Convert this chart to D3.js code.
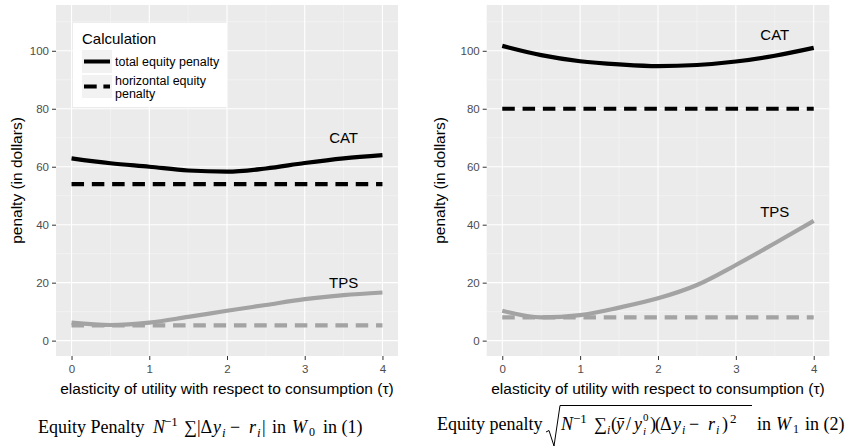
<!DOCTYPE html>
<html>
<head>
<meta charset="utf-8">
<script src="https://cdnjs.cloudflare.com/ajax/libs/d3/7.8.5/d3.min.js"></script>
<style>
  body { margin: 0; background: #fff; }
  svg { display: block; }
  .tick text { font-family: 'Liberation Sans', Arial, sans-serif; font-size: 11.5px; fill: #4d4d4d; }
  .axis-title { font-family: 'Liberation Sans', Arial, sans-serif; font-size: 15.5px; fill: #000; }
  .caption { font-family: 'Liberation Serif', 'Times New Roman', serif; font-size: 18px; fill: #000; }
</style>
</head>
<body>
<div id="chart"></div>
<script>
// values
const tau = [0, 0.5, 1, 1.5, 2, 2.5, 3, 3.5, 4];
const catTotalW0 = [62.9, 61.2, 60.0, 58.7, 58.3, 59.4, 61.3, 62.9, 64.0];
const tpsTotalW0 = [6.2, 5.4, 6.2, 8.2, 10.3, 12.3, 14.3, 15.7, 16.6];
const catHorizW0 = 54;
const tpsHorizW0 = 5.3;
const catTotalW1 = [101.7, 98.5, 96.4, 95.3, 94.7, 95.1, 96.3, 98.3, 101.0];
const tpsTotalW1 = [10.3, 8.0, 8.8, 11.4, 14.6, 19.2, 26.1, 33.6, 41.3];
const catHorizW1 = 80;
const tpsHorizW1 = 8;
const groups = ['CAT', 'TPS'];
const legendLabels = ['total equity penalty', 'horizontal equity penalty'];
const yTicks = [0, 20, 40, 60, 80, 100];
const xTicks = [0, 1, 2, 3, 4];

const width = 847;
const height = 448;
const colors = { CAT: '#000000', TPS: '#a3a3a3' };

const svg = d3.select('#chart').append('svg')
  .attr('width', width)
  .attr('height', height);

const y = d3.scaleLinear().domain([-5.3, 115.8]).range([356, 5]);

function drawPanel(left, right, series, labelY, titleX) {
  const x = d3.scaleLinear().domain([-0.2, 4.2]).range([left, right]);
  const g = svg.append('g');

  // panel background
  g.append('rect')
    .attr('x', left)
    .attr('y', y.range()[1])
    .attr('width', right - left)
    .attr('height', y.range()[0] - y.range()[1])
    .attr('fill', '#ebebeb');

  // minor grid
  g.selectAll('.minor-y')
    .data([10, 30, 50, 70, 90, 110])
    .enter().append('line')
    .attr('x1', left).attr('x2', right)
    .attr('y1', d => y(d)).attr('y2', d => y(d))
    .attr('stroke', '#f7f7f7').attr('stroke-width', 0.6);
  g.selectAll('.minor-x')
    .data([0.5, 1.5, 2.5, 3.5])
    .enter().append('line')
    .attr('y1', y.range()[0]).attr('y2', y.range()[1])
    .attr('x1', d => x(d)).attr('x2', d => x(d))
    .attr('stroke', '#f7f7f7').attr('stroke-width', 0.6);

  // major grid
  g.selectAll('.major-y')
    .data(yTicks)
    .enter().append('line')
    .attr('x1', left).attr('x2', right)
    .attr('y1', d => y(d)).attr('y2', d => y(d))
    .attr('stroke', '#fff').attr('stroke-width', 1.1);
  g.selectAll('.major-x')
    .data(xTicks)
    .enter().append('line')
    .attr('y1', y.range()[0]).attr('y2', y.range()[1])
    .attr('x1', d => x(d)).attr('x2', d => x(d))
    .attr('stroke', '#fff').attr('stroke-width', 1.1);

  // axes
  const yAxis = g.append('g')
    .attr('transform', `translate(${left},0)`)
    .call(d3.axisLeft(y).tickValues(yTicks).tickSize(4).tickPadding(3));
  const xAxis = g.append('g')
    .attr('transform', `translate(0,${y.range()[0]})`)
    .call(d3.axisBottom(x).tickValues(xTicks).tickFormat(d3.format('d')).tickSize(4).tickPadding(5));
  [yAxis, xAxis].forEach((a) => {
    a.select('.domain').remove();
    a.selectAll('.tick line').attr('stroke', '#333').attr('stroke-width', 1);
  });

  // lines
  const line = d3.line()
    .x(d => x(d[0]))
    .y(d => y(d[1]))
    .curve(d3.curveMonotoneX);

  series.forEach((s) => {
    g.append('path')
      .datum(tau.map((t, i) => [t, s.total[i]]))
      .attr('d', line)
      .attr('fill', 'none')
      .attr('stroke', colors[s.name])
      .attr('stroke-width', 4.2);
    g.append('path')
      .datum(tau.map(t => [t, s.horiz]))
      .attr('d', line)
      .attr('fill', 'none')
      .attr('stroke', colors[s.name])
      .attr('stroke-width', 4.2)
      .attr('stroke-dasharray', '12.5 7.8');
  });

  // group labels
  g.selectAll('.grp')
    .data(groups)
    .enter().append('text')
    .attr('x', x(3.5))
    .attr('y', d => y(labelY[d]))
    .attr('dy', '0.36em')
    .attr('text-anchor', 'middle')
    .style('font-family', "'Liberation Sans', Arial, sans-serif")
    .style('font-size', '15px')
    .text(d => d);

  // axis titles
  g.append('text')
    .attr('class', 'axis-title')
    .attr('x', (left + right) / 2)
    .attr('y', 394)
    .attr('text-anchor', 'middle')
    .text('elasticity of utility with respect to consumption (τ)');
  g.append('text')
    .attr('class', 'axis-title')
    .attr('transform', `translate(${titleX},${(y.range()[0] + y.range()[1]) / 2}) rotate(-90)`)
    .attr('text-anchor', 'middle')
    .text('penalty (in dollars)');

  return x;
}

drawPanel(56, 398, [
  { name: 'CAT', total: catTotalW0, horiz: catHorizW0 },
  { name: 'TPS', total: tpsTotalW0, horiz: tpsHorizW0 },
], { CAT: 70, TPS: 20 }, 22);

drawPanel(486.7, 829.3, [
  { name: 'CAT', total: catTotalW1, horiz: catHorizW1 },
  { name: 'TPS', total: tpsTotalW1, horiz: tpsHorizW1 },
], { CAT: 105.7, TPS: 44.5 }, 445);

// legend
const legend = svg.append('g').attr('transform', 'translate(73,23)');
legend.append('rect')
  .attr('width', 154)
  .attr('height', 84)
  .attr('fill', '#fff');
legend.append('text')
  .attr('x', 9)
  .attr('y', 21)
  .style('font-family', "'Liberation Sans', Arial, sans-serif")
  .style('font-size', '15px')
  .text('Calculation');
const keys = legend.selectAll('.key')
  .data(legendLabels)
  .enter().append('g')
  .attr('transform', (d, i) => `translate(9,${27 + i * 25})`);
keys.append('rect')
  .attr('width', 30)
  .attr('height', 23)
  .attr('fill', '#f2f2f2');
keys.append('line')
  .attr('x1', 2).attr('x2', 28)
  .attr('y1', 11.5).attr('y2', 11.5)
  .attr('stroke', '#000')
  .attr('stroke-width', 4)
  .attr('stroke-dasharray', (d, i) => (i === 0 ? null : '12.7 6.7'));
keys.append('text')
  .style('font-family', "'Liberation Sans', Arial, sans-serif")
  .style('font-size', '12.5px')
  .each(function (d, i) {
    const t = d3.select(this);
    if (i === 0) {
      t.append('tspan').attr('x', 33).attr('y', 16).text(d);
    } else {
      t.append('tspan').attr('x', 33).attr('y', 10).text('horizontal equity');
      t.append('tspan').attr('x', 33).attr('y', 23).text('penalty');
    }
  });

// captions: each piece [text, x, italic, baseline shift, font size]
function caption(pieces, base) {
  const t = svg.append('text').attr('class', 'caption');
  pieces.forEach(([txt, px, it, shift, size]) => {
    t.append('tspan')
      .attr('x', px)
      .attr('y', base + (shift || 0))
      .style('font-style', it ? 'italic' : 'normal')
      .style('font-size', size ? `${size}px` : null)
      .text(txt);
  });
}

caption([
  ['Equity Penalty', 38],
  ['N', 153, true],
  ['−1', 164, false, -7, 13],
  ['∑', 184],
  ['|Δ', 197],
  ['y', 213, true],
  ['i', 222, true, 4, 13],
  ['−', 230],
  ['r', 249, true],
  ['i', 257, true, 4, 13],
  ['|', 262],
  ['in', 272],
  ['W', 292, true],
  ['0', 309, false, 3, 12],
  ['in (1)', 323],
], 433);

svg.append('path')
  .attr('d', 'M546,432 L549,430.5 L554,446 L560,405.5 L752,405.5')
  .attr('fill', 'none')
  .attr('stroke', '#000')
  .attr('stroke-width', 1);

caption([
  ['Equity penalty', 437],
  ['N', 561, true],
  ['−1', 573, false, -7, 13],
  ['∑', 594],
  ['i', 607, true, 4, 12],
  ['(', 611],
  ['y\u0304', 616, true],
  ['/', 626],
  ['y', 634, true],
  ['i', 643, true, 5, 11],
  ['0', 643, false, -9, 11],
  [')', 650],
  ['(', 655],
  ['Δ', 660],
  ['y', 673, true],
  ['i', 682, true, 4, 12],
  ['−', 689],
  ['r', 708, true],
  ['i', 716, true, 4, 12],
  [')', 722],
  ['2', 730, false, -7, 13],
  ['in', 757],
  ['W', 776, true],
  ['1', 793, false, 3, 12],
  ['in (2)', 805],
], 430);
</script>
</body>
</html>
